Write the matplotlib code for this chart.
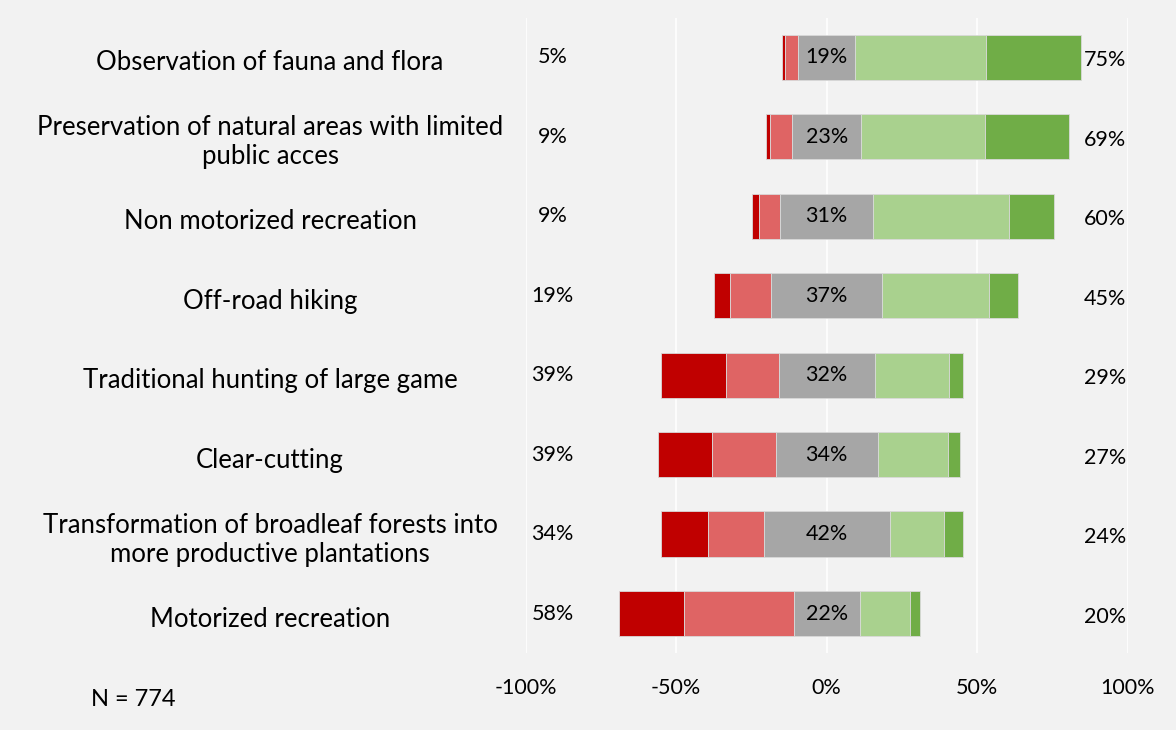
import numpy as np
import matplotlib.pyplot as plt
from matplotlib.transforms import blended_transform_factory

plt.rcParams['font.family'] = ['Lato', 'DejaVu Sans']

categories = [
    'Observation of fauna and flora',
    'Preservation of natural areas with limited\npublic acces',
    'Non motorized recreation',
    'Off-road hiking',
    'Traditional hunting of large game',
    'Clear-cutting',
    'Transformation of broadleaf forests into\nmore productive plantations',
    'Motorized recreation',
]

# shares of respondents (%) per answer, one value per category
strongly_oppose = [1.1, 1.6, 2.3, 5.2, 21.9, 18.0, 15.6, 21.4]
oppose = [4.2, 7.2, 6.9, 13.6, 17.3, 21.0, 18.3, 36.5]
neutral = [19, 23, 31, 37, 32, 34, 42, 22]
support = [43.3, 41.0, 45.0, 35.4, 24.6, 23.3, 18.0, 16.7]
strongly_support = [31.7, 28.0, 15.0, 9.6, 4.6, 3.9, 6.2, 3.3]

xticks = [-100, -50, 0, 50, 100]
sample_note = 'N = 774'

colors = ['#C00000', '#DF6464', '#A6A6A6', '#A9D18E', '#70AD47']
bg = '#F2F2F2'

so = np.array(strongly_oppose)
op = np.array(oppose)
ne = np.array(neutral)
su = np.array(support)
ss = np.array(strongly_support)
y = np.arange(len(categories))

fig = plt.figure(figsize=(11.76, 7.3), dpi=100, facecolor=bg)
ax = fig.add_axes([0.447, 0.105, 0.512, 0.871], facecolor=bg)

# segments stacked outward from the middle of the neutral block
left = -ne / 2 - op - so
for vals, c in zip([so, op, ne, su, ss], colors):
    ax.barh(y, vals, left=left, height=0.57, color=c,
            edgecolor='#D9D9D9', linewidth=0.6, zorder=3)
    left = left + vals

for i in y:
    ax.text(0, i, f'{ne[i]:.0f}%', ha='center', va='center',
            fontsize=15.5, zorder=4)
    ax.text(-91, i, f'{so[i] + op[i]:.0f}%', ha='center', va='center',
            fontsize=15.5)
    ax.text(92.5, i + 0.04, f'{su[i] + ss[i]:.0f}%', ha='center',
            va='center', fontsize=15.5, clip_on=False)

trans = blended_transform_factory(fig.transFigure, ax.transData)
for i, name in enumerate(categories):
    ax.text(0.2296, i + 0.07, name, transform=trans, ha='center',
            va='center', fontsize=18.5, linespacing=1.2)

ax.set_xlim(-100, 100)
ax.set_ylim(len(categories) - 0.5, -0.5)
ax.set_xticks(xticks)
ax.set_xticklabels([f'{t}%' for t in xticks], fontsize=15.5)
ax.set_yticks([])
ax.tick_params(axis='x', length=0, pad=18)
ax.grid(axis='x', color='white', linewidth=1.2, zorder=0)
ax.set_axisbelow(True)
for s in ax.spines.values():
    s.set_visible(False)

fig.text(0.077, 1 - 700 / 730, sample_note, va='center', fontsize=17)

fig.savefig('out.png', dpi=100, facecolor=bg)
